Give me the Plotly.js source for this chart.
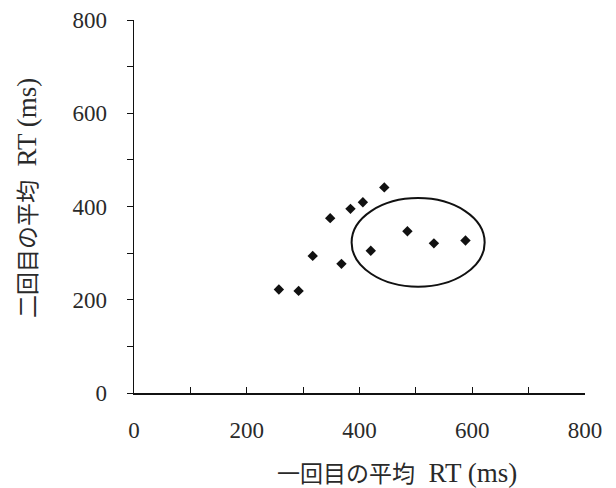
<!DOCTYPE html>
<html>
<head>
<meta charset="utf-8">
<script src="https://cdn.plot.ly/plotly-3.0.1.min.js"></script>
<style>html,body{margin:0;padding:0;background:#fff;}#chart{width:616px;height:488px;}</style>
</head>
<body>
<div id="chart"></div>
<script>
// Data
const firstRT  = [257, 292, 317, 348, 368, 384, 406, 420, 444, 485, 532, 588];
const secondRT = [222, 219, 294, 375, 277, 395, 409, 305, 441, 347, 321, 327];
const xTickVals = [0, 200, 400, 600, 800];
const yTickVals = [0, 200, 400, 600, 800];
const xTitleJa = '一回目の平均';
const yTitleJa = '二回目の平均';
const titleUnit = 'RT (ms)';
const highlightX = [386, 622];
const highlightY = [228, 418];

const serif = '"Liberation Serif", "Noto Sans CJK JP", serif';
const cjk = '"Noto Sans CJK JP", "Liberation Serif", serif';
const textColor = '#2a2a2a';

function titleHTML(ja) {
  return '<span style="font-family:' + cjk.replace(/"/g, "'") + ';font-size:23px;">' + ja + '</span>' +
         '&nbsp;&nbsp;' +
         '<span style="font-size:27px;">' + titleUnit + '</span>';
}

const trace = {
  x: firstRT, y: secondRT, type: 'scatter', mode: 'markers',
  marker: {symbol: 'diamond', size: 8, color: '#111'},
  hoverinfo: 'skip'
};

const axisCommon = {
  range: [0, 800], showgrid: false, zeroline: false,
  showline: true, linecolor: '#111', linewidth: 1.5,
  tickfont: {family: serif, size: 23, color: textColor},
  tickcolor: '#111', ticklen: 6, tickwidth: 1,
  fixedrange: true
};

const layout = {
  width: 616, height: 488,
  margin: {l: 134, r: 31, t: 20, b: 95},
  paper_bgcolor: '#fff', plot_bgcolor: '#fff',
  showlegend: false,
  xaxis: Object.assign({}, axisCommon, {
    tickmode: 'array', tickvals: xTickVals, ticktext: xTickVals.map(String),
    ticks: 'inside', ticklabelstandoff: 16,
    minor: {dtick: 100, tick0: 0, ticks: 'inside', ticklen: 6, tickcolor: '#111'}
  }),
  yaxis: Object.assign({}, axisCommon, {
    tickmode: 'array', tickvals: yTickVals, ticktext: yTickVals.map(String),
    ticks: 'outside', ticklabelstandoff: 15,
    minor: {dtick: 100, tick0: 0, ticks: 'outside', ticklen: 6, tickcolor: '#111'}
  }),
  shapes: [{
    type: 'circle', xref: 'x', yref: 'y',
    x0: highlightX[0], x1: highlightX[1], y0: highlightY[0], y1: highlightY[1],
    line: {color: '#111', width: 2}
  }],
  annotations: [
    {text: titleHTML(xTitleJa), xref: 'paper', yref: 'paper', x: 0.584, y: 0, yshift: -79,
     xanchor: 'center', yanchor: 'middle', showarrow: false,
     font: {family: serif, size: 27, color: textColor}},
    {text: titleHTML(yTitleJa), xref: 'paper', yref: 'paper', x: 0, xshift: -108, y: 0.523,
     xanchor: 'center', yanchor: 'middle', textangle: -90, showarrow: false,
     font: {family: serif, size: 27, color: textColor}}
  ]
};

Plotly.newPlot('chart', [trace], layout, {staticPlot: true, displayModeBar: false});
</script>
</body>
</html>
